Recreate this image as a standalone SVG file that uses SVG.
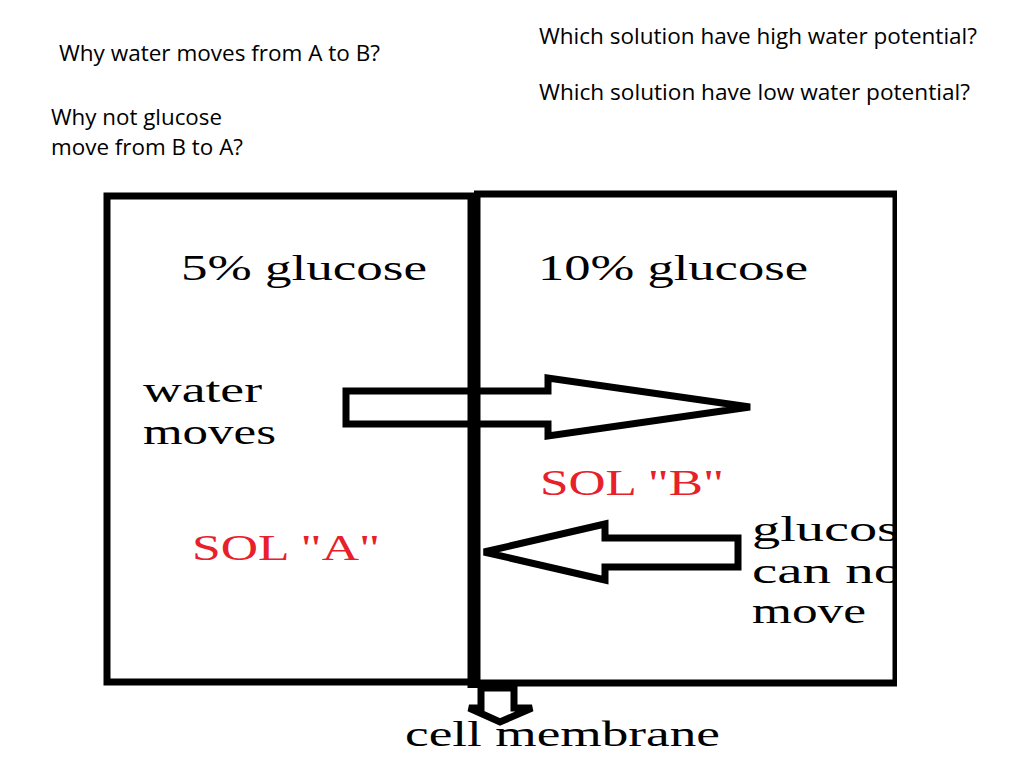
<svg xmlns="http://www.w3.org/2000/svg" width="1024" height="768" viewBox="0 0 1024 768">
<style>
.q{font-family:"Open Sans","Liberation Sans",sans-serif;font-size:21px;fill:#000}
.s{font-family:"Liberation Serif",serif;font-size:36px;fill:#000}
.r{fill:#e8202a}
.ln{fill:none;stroke:#000;stroke-width:7;stroke-linejoin:miter}
</style>
<defs><clipPath id="c"><rect x="0" y="0" width="897" height="768"/></clipPath></defs>
<rect width="1024" height="768" fill="#fff"/>
<g id="questions">
<text class="q" x="539" y="44" textLength="438" lengthAdjust="spacingAndGlyphs">Which solution have high water potential?</text>
<text class="q" x="539" y="100" textLength="431" lengthAdjust="spacingAndGlyphs">Which solution have low water potential?</text>
<text class="q" x="59" y="61" textLength="321" lengthAdjust="spacingAndGlyphs">Why water moves from A to B?</text>
<text class="q" x="51" y="125" textLength="171" lengthAdjust="spacingAndGlyphs">Why not glucose</text>
<text class="q" x="51" y="155" textLength="192" lengthAdjust="spacingAndGlyphs">move from B to A?</text>
</g>
<g id="solA">
<polyline class="ln" points="474,196 107,196 107,682 474,682"/>
<text class="s" x="181" y="280" textLength="246" lengthAdjust="spacingAndGlyphs">5% glucose</text>
<text class="s" x="143" y="402" textLength="119" lengthAdjust="spacingAndGlyphs">water</text>
<text class="s" x="143" y="444" textLength="133" lengthAdjust="spacingAndGlyphs">moves</text>
<text class="s r" x="192" y="560" textLength="188" lengthAdjust="spacingAndGlyphs">SOL "A"</text>
</g>
<g id="solB" clip-path="url(#c)">
<polyline class="ln" points="474,194 896,194 896,683 474,683"/>
<text class="s" x="538" y="280" textLength="270" lengthAdjust="spacingAndGlyphs">10% glucose</text>
<text class="s r" x="540" y="495" textLength="184" lengthAdjust="spacingAndGlyphs">SOL "B"</text>
<text class="s" x="752" y="541" textLength="172" lengthAdjust="spacingAndGlyphs">glucose</text>
<text class="s" x="752" y="583" textLength="166" lengthAdjust="spacingAndGlyphs">can not</text>
<text class="s" x="752" y="623" textLength="114" lengthAdjust="spacingAndGlyphs">move</text>
</g>
<g id="connectors">
<polygon class="ln" points="346,391 548,391 548,378 750,407 548,436 548,424 346,424"/>
<polygon class="ln" points="738,538 605,538 605,524 484,552 605,580 605,567 738,567"/>
<line x1="474" y1="194" x2="474" y2="688" stroke="#000" stroke-width="13"/>
<polygon class="ln" points="481,688 481,708 469,708 500,722 532,708 514,708 514,688"/>
</g>
<text class="s" x="405" y="746" textLength="315" lengthAdjust="spacingAndGlyphs">cell membrane</text>
</svg>
